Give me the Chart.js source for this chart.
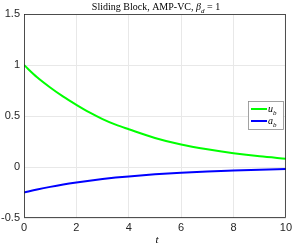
<!DOCTYPE html>
<html>
<head>
<meta charset="utf-8">
<script src="https://cdn.jsdelivr.net/npm/chart.js@4"></script>
<style>
  html, body { margin: 0; padding: 0; background: #fff; }
  #wrap { width: 295px; height: 248px; }
</style>
</head>
<body>
<div id="wrap"><canvas id="myChart" width="295" height="248"></canvas></div>
<script>
// values
const times = [0, 0.5, 1, 1.5, 2, 2.5, 3, 3.5, 4, 5, 6, 7, 8, 9, 10];
const ub = [1, 0.88, 0.78, 0.69, 0.61, 0.535, 0.47, 0.415, 0.37, 0.285, 0.22, 0.173, 0.135, 0.105, 0.082];
const ab = [-0.25, -0.221, -0.195, -0.172, -0.152, -0.134, -0.118, -0.104, -0.092, -0.072, -0.056, -0.043, -0.034, -0.026, -0.02];
const yTicks = [-0.5, 0, 0.5, 1, 1.5];
const xTicks = [0, 2, 4, 6, 8, 10];

const tickFont = { family: "Liberation Sans", size: 11 };
const serif = "Liberation Serif";

// draws text with a subscript, e.g. u_b
function subText(ctx, base, sub, x, y, size) {
  ctx.font = "italic " + size + "px " + serif;
  ctx.fillText(base, x, y);
  let w = ctx.measureText(base).width;
  ctx.font = "italic " + Math.round(size * 0.7) + "px " + serif;
  ctx.fillText(sub, x + w, y + size * 0.25);
  return w + ctx.measureText(sub).width;
}

const extras = {
  id: "extras",
  afterDraw(chart) {
    let ctx = chart.ctx;
    let a = chart.chartArea;
    ctx.save();
    // axes box
    ctx.strokeStyle = "#262626";
    ctx.lineWidth = 0.8;
    ctx.strokeRect(a.left + 0.5, a.top + 0.5, a.right - a.left - 1, a.bottom - a.top - 1);

    // title
    ctx.fillStyle = "#000";
    ctx.textBaseline = "alphabetic";
    let t1 = "Sliding Block, AMP-VC, ";
    let t2 = " = 1";
    ctx.font = "10px " + serif;
    let w1 = ctx.measureText(t1).width;
    let w2 = ctx.measureText(t2).width;
    ctx.font = "italic 10px " + serif;
    let wb = ctx.measureText("\u03B2").width;
    ctx.font = "italic 7px " + serif;
    let wd = ctx.measureText("d").width;
    let x = 156 - (w1 + wb + wd + w2) / 2;
    ctx.font = "10px " + serif;
    ctx.fillText(t1, x, 10);
    x += w1;
    x += subText(ctx, "\u03B2", "d", x, 10, 10);
    ctx.font = "10px " + serif;
    ctx.fillText(t2, x, 10);

    // x axis label
    ctx.font = "italic 11px " + serif;
    ctx.textAlign = "center";
    ctx.fillText("t", 157, 243);
    ctx.textAlign = "left";

    // legend
    let lx = 248, ly = 101, lw = 35, lh = 28;
    ctx.fillStyle = "#fff";
    ctx.fillRect(lx, ly, lw, lh);
    ctx.strokeStyle = "#8c8c8c";
    ctx.lineWidth = 0.8;
    ctx.strokeRect(lx + 0.5, ly + 0.5, lw, lh);
    chart.data.datasets.forEach((ds, i) => {
      let yy = ly + 8 + i * 12;
      ctx.strokeStyle = ds.borderColor;
      ctx.lineWidth = 2;
      ctx.beginPath();
      ctx.moveTo(lx + 3, yy);
      ctx.lineTo(lx + 19, yy);
      ctx.stroke();
      ctx.fillStyle = "#000";
      subText(ctx, ds.label[0], ds.label[2], lx + 20, yy + 3, 10);
    });
    ctx.restore();
  }
};

const ctx = document.getElementById("myChart").getContext("2d");
const myChart = new Chart(ctx, {
  type: "line",
  data: {
    datasets: [
      {
        label: "u_b",
        data: times.map((t, i) => ({ x: t, y: ub[i] })),
        borderColor: "#00ff00",
        borderWidth: 2,
        pointRadius: 0,
        cubicInterpolationMode: "monotone",
        fill: false,
      },
      {
        label: "a_b",
        data: times.map((t, i) => ({ x: t, y: ab[i] })),
        borderColor: "#0000ff",
        borderWidth: 2,
        pointRadius: 0,
        cubicInterpolationMode: "monotone",
        fill: false,
      },
    ],
  },
  options: {
    responsive: false,
    animation: false,
    layout: { padding: { top: 14, right: 7, left: 0, bottom: 0 } },
    plugins: { legend: { display: false }, title: { display: false }, tooltip: { enabled: false } },
    scales: {
      x: {
        type: "linear",
        min: 0,
        max: 10,
        afterBuildTicks: (axis) => { axis.ticks = xTicks.map((v) => ({ value: v })); },
        afterFit: (axis) => { axis.height = 30; },
        grid: { color: "#e8e8e8", drawTicks: false },
        border: { display: false },
        ticks: { font: tickFont, color: "#262626", padding: 3, maxRotation: 0 },
      },
      y: {
        min: -0.5,
        max: 1.5,
        afterBuildTicks: (axis) => { axis.ticks = yTicks.map((v) => ({ value: v })); },
        afterFit: (axis) => { axis.width = 24; },
        grid: { color: "#e8e8e8", drawTicks: false },
        border: { display: false },
        ticks: { font: tickFont, color: "#262626", padding: 4, callback: (v) => String(v) },
      },
    },
  },
  plugins: [extras],
});
</script>
</body>
</html>
